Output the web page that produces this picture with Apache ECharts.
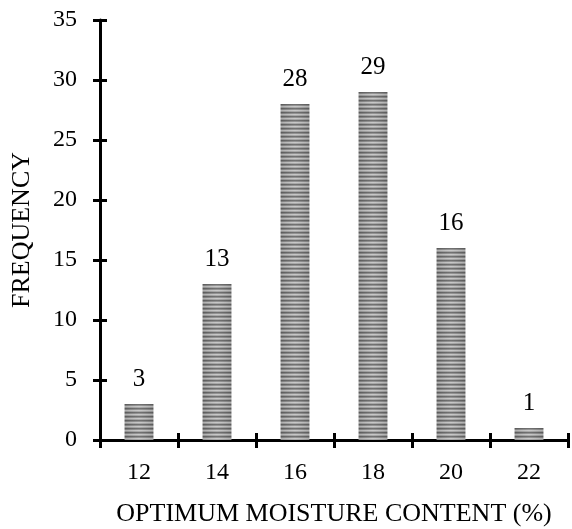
<!DOCTYPE html>
<html>
<head>
<meta charset="utf-8">
<script src="https://cdn.jsdelivr.net/npm/echarts@6/dist/echarts.min.js"></script>
<style>
  html, body { margin: 0; padding: 0; background: #fff; }
  #chart { width: 572px; height: 529px; }
</style>
</head>
<body>
<div id="chart"></div>
<script>
// Optimum moisture content classes (%) and how often each occurs
const moistureClasses = ['12', '14', '16', '18', '20', '22'];
const frequencies = [3, 13, 28, 29, 16, 1];
const yTicks = [0, 5, 10, 15, 20, 25, 30, 35];

const FONT = '"Liberation Serif", "Times New Roman", serif';

// Horizontal striped fill for the bars
function stripePattern() {
  const c = document.createElement('canvas');
  c.width = 8; c.height = 4;
  const g = c.getContext('2d');
  const rows = ['#666666', '#8c8c8c', '#c4c4c4', '#a2a2a2'];
  rows.forEach((col, i) => { g.fillStyle = col; g.fillRect(0, i, 8, 1); });
  return c;
}

const chart = echarts.init(document.getElementById('chart'), null, { renderer: 'canvas' });

const tickText = { color: '#000', fontFamily: FONT, fontSize: 24 };
const nameText = { color: '#000', fontFamily: FONT, fontSize: 26 };
const lineStyle = { color: '#000', width: 3 };

chart.setOption({
  animation: false,
  grid: { left: 100, right: 4, top: 20, bottom: 89, outerBoundsMode: 'none', containLabel: false },
  xAxis: [
    {
      type: 'category',
      data: moistureClasses,
      position: 'bottom',
      name: 'OPTIMUM MOISTURE CONTENT (%)',
      nameLocation: 'middle',
      nameGap: 61,
      nameTextStyle: nameText,
      axisLine: { lineStyle: lineStyle },
      axisTick: { show: true, inside: false, length: 8, lineStyle: { color: '#000', width: 3 } },
      axisLabel: Object.assign({ margin: 21 }, tickText),
      splitLine: { show: false }
    },
    {
      // inward half of the crossing ticks
      type: 'category',
      data: moistureClasses,
      position: 'bottom',
      axisLine: { show: false },
      axisTick: { show: true, inside: true, length: 7, lineStyle: { color: '#000', width: 3 } },
      axisLabel: { show: false },
      splitLine: { show: false }
    }
  ],
  yAxis: [
    {
      type: 'value',
      min: yTicks[0],
      max: yTicks[yTicks.length - 1],
      interval: 5,
      name: 'FREQUENCY',
      nameLocation: 'middle',
      nameGap: 65,
      nameTextStyle: nameText,
      axisLine: { show: true, lineStyle: lineStyle },
      axisTick: { show: true, inside: false, length: 7, lineStyle: { color: '#000', width: 3 } },
      axisLabel: Object.assign({ margin: 23 }, tickText),
      splitLine: { show: false }
    },
    {
      type: 'value',
      min: yTicks[0],
      max: yTicks[yTicks.length - 1],
      interval: 5,
      position: 'left',
      axisLine: { show: false },
      axisTick: { show: true, inside: true, length: 7, lineStyle: { color: '#000', width: 3 } },
      axisLabel: { show: false },
      splitLine: { show: false }
    }
  ],
  series: [
    {
      type: 'bar',
      data: frequencies,
      barWidth: '37%',
      itemStyle: { color: { image: stripePattern(), repeat: 'repeat' } },
      label: {
        show: true,
        position: 'top',
        distance: 12,
        color: '#000',
        fontFamily: FONT,
        fontSize: 25
      },
      z: 2
    },
    {
      // soft rounded shading across each bar
      type: 'bar',
      data: frequencies,
      barWidth: '37%',
      barGap: '-100%',
      silent: true,
      itemStyle: {
        color: {
          type: 'linear', x: 0, y: 0, x2: 1, y2: 0,
          colorStops: [
            { offset: 0, color: 'rgba(0,0,0,0.12)' },
            { offset: 0.5, color: 'rgba(255,255,255,0.08)' },
            { offset: 1, color: 'rgba(0,0,0,0.12)' }
          ]
        }
      },
      z: 3
    }
  ]
});
</script>
</body>
</html>
